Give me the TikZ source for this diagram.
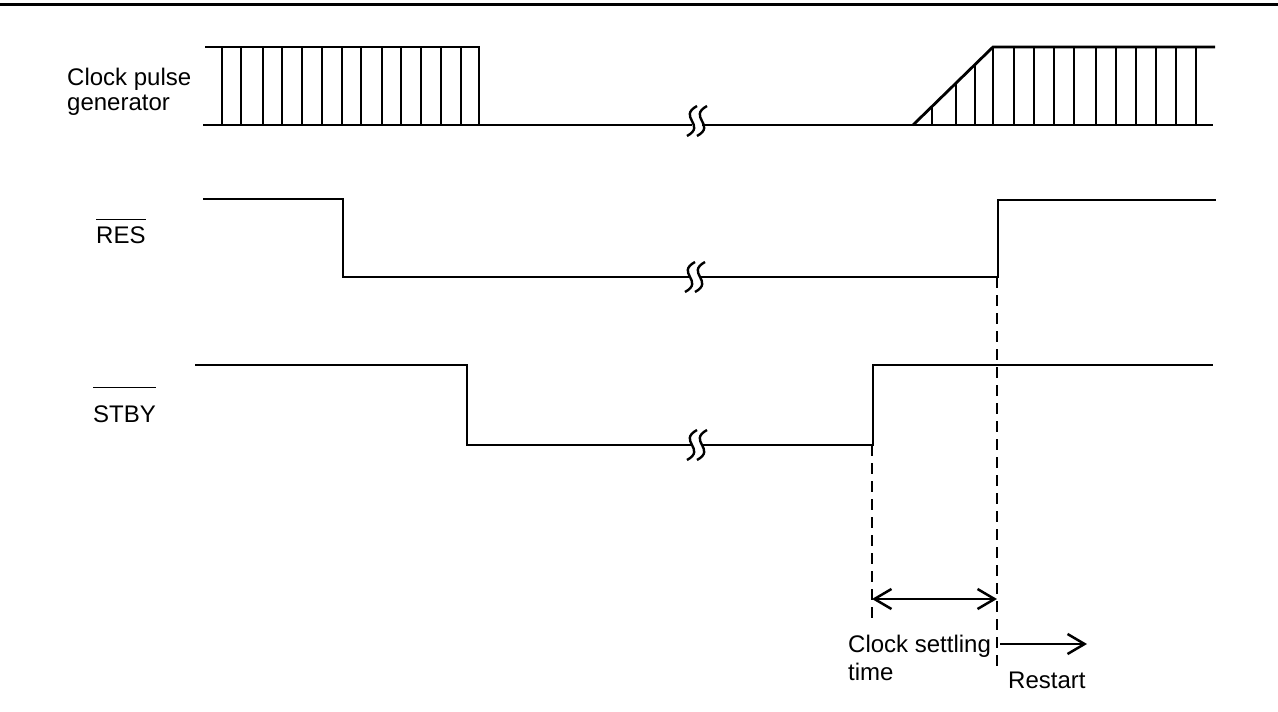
\documentclass[tikz,border=0pt]{standalone}
\usepackage{fontspec}
\setmainfont{Liberation Sans}
\usetikzlibrary{arrows.meta}
\tikzset{
  sig/.style={line width=2.8pt, line cap=butt, line join=miter},
  tick/.style={line width=2.5pt},
  guide/.style={line width=1.6pt, dash pattern=on 11pt off 7pt},
  arr/.style={line width=2.5pt, -{Straight Barb[length=17pt,width=20pt,line width=2.5pt]}},
  darr/.style={line width=2.5pt, {Straight Barb[length=17pt,width=20pt,line width=2.5pt]}-{Straight Barb[length=17pt,width=20pt,line width=2.5pt]}},
  lbl/.style={inner sep=0pt, anchor=base west, font=\fontsize{24}{29}\selectfont},
  brk/.style={line width=2.4pt},
  ovl/.style={line width=1.1pt}
}
\newcommand\brkmark[2]{%
  \draw[brk] (#1+5,#2-15) .. controls (#1-15,#2-4) and (#1+15,#2+4) .. (#1-5,#2+15);}
\begin{document}
\begin{tikzpicture}[x=1pt,y=-1pt]
\useasboundingbox (0,0) rectangle (1278,712);
% top border
\draw[line width=3pt] (0,4.5) -- (1278,4.5);

% ---- clock pulse generator ----
\node[lbl] (cpg1) at (67,85) {Clock pulse};
\node[lbl] (cpg2) at (67,110) {generator};
\draw[sig] (205,47) -- (479,47) -- (479,125);
\foreach \x in {222,241,263,282,302,322,342,361,382,401,421,441,461}
  \draw[tick] (\x,47) -- (\x,125);
\draw[sig] (203,125) -- (692,125);
\draw[sig] (702,125) -- (1213,125);
\brkmark{692}{121}
\brkmark{702}{121}
\draw[sig] (913,125) -- (993,47) -- (1215,47);
\draw[tick] (993,47) -- (993,125);
\draw[tick] (932,106.5) -- (932,125);
\draw[tick] (956,83.1) -- (956,125);
\draw[tick] (975,64.5) -- (975,125);
\foreach \x in {1014,1034,1054,1074,1096,1116,1136,1156,1176,1196}
  \draw[tick] (\x,47) -- (\x,125);

% ---- RES ----
\node[lbl] (resl) at (96,243) {RES};
\draw[ovl] ([yshift=6.5pt]resl.north west) -- ([yshift=6.5pt]resl.north east);
\draw[sig] (203,199) -- (343,199) -- (343,277) -- (690,277);
\draw[sig] (700,277) -- (998,277) -- (998,200) -- (1216,200);
\brkmark{690}{277}
\brkmark{700}{277}

% ---- STBY ----
\node[lbl] (stbyl) at (93,422) {STBY};
\draw[ovl] ([yshift=17.5pt]stbyl.north west) -- ([yshift=17.5pt]stbyl.north east);
\draw[sig] (195,365) -- (467,365) -- (467,445) -- (692,445);
\draw[sig] (702,445) -- (873,445) -- (873,365) -- (1213,365);
\brkmark{692}{445}
\brkmark{702}{445}

% ---- guides and arrows ----
\coordinate (g1t) at (872,445);
\coordinate (g1b) at (872,623);
\coordinate (g2t) at (997,277);
\coordinate (g2b) at (997,672);
\draw[guide] (g1t) -- (g1b);
\draw[guide] (g2t) -- (g2b);
\coordinate (a1) at (872,599);
\coordinate (a2) at (997,599);
\draw[darr] (a1) -- (a2);
\coordinate (r1) at (1000,644);
\coordinate (r2) at (1087,644);
\draw[arr] (r1) -- (r2);

\node[lbl] (cst1) at (848,652) {Clock settling};
\node[lbl] (cst2) at (848,680) {time};
\node[lbl] (rst) at (1008,688) {Restart};
\end{tikzpicture}
\end{document}
